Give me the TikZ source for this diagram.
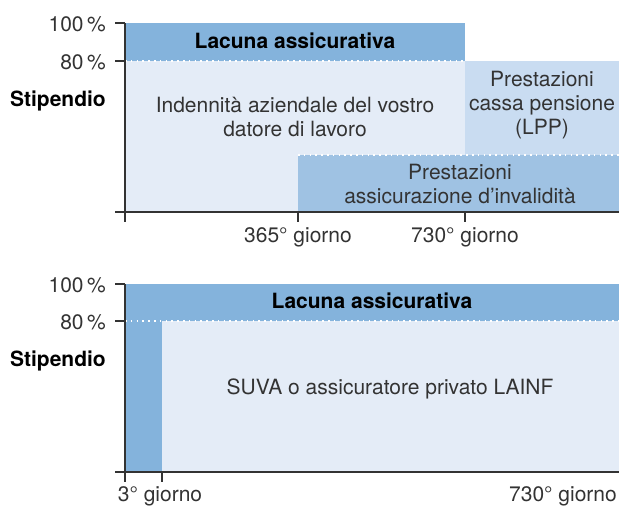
\documentclass[tikz,border=0pt]{standalone}
\usepackage{fontspec}
\setmainfont{TeX Gyre Heros}
\begin{document}
\begin{tikzpicture}[x=1pt,y=-1pt,
  txt/.style={text=textgray,font=\fontsize{21}{24}\selectfont,align=center,inner sep=0pt},
  lbl/.style={text=textgray,font=\fontsize{21}{24}\selectfont,inner sep=0pt},
  bold/.style={text=black,font=\fontsize{21}{24}\selectfont\bfseries,inner sep=0pt},
  axis/.style={draw=axisgray,line width=1.4pt},
  dots/.style={draw=white,line width=1.6pt,dash pattern=on 1.6pt off 4.2pt}]
\definecolor{textgray}{HTML}{333333}
\definecolor{axisgray}{HTML}{333333}
\definecolor{gapblue}{HTML}{84B3DC}
\definecolor{lightblue}{HTML}{E4ECF7}
\definecolor{lppblue}{HTML}{C9DCF1}
\definecolor{invblue}{HTML}{9FC2E3}
\useasboundingbox (0,0) rectangle (619,507);
% ---------- top chart
\fill[lightblue] (125,61) rectangle (465,212);
\fill[gapblue] (125,23) rectangle (465,61);
\fill[lppblue] (465,61) rectangle (619,155);
\fill[invblue] (298,155) rectangle (619,212);
\draw[dots] (125,61) -- (465,61);
\draw[dots] (298,155) -- (619,155);
\draw[axis] (125,23) -- (125,222);
\draw[axis] (115,212) -- (619,212);
\draw[axis] (115,23) -- (125,23);
\draw[axis] (115,61) -- (125,61);
\draw[axis] (298,212) -- (298,222);
\draw[axis] (465,212) -- (465,222);
\node[lbl,anchor=east] (t100) at (106,24) {100\,\%};
\node[lbl,anchor=east] (t80) at (106,62) {80\,\%};
\node[bold,anchor=east] (tstip) at (106,101) {Stipendio};
\node[bold] (tgap) at (295,41) {Lacuna assicurativa};
\node[txt] (tind) at (295,117) {Indennità aziendale del vostro\\datore di lavoro};
\node[txt] (tlpp) at (542,105) {Prestazioni\\cassa pensione\\(LPP)};
\node[txt] (tinv) at (460,183.5) {Prestazioni\\assicurazione d’invalidità};
\node[lbl] (t365) at (298,237) {365° giorno};
\node[lbl] (t730) at (465,237) {730° giorno};
% ---------- bottom chart
\fill[lightblue] (162,321) rectangle (619,472);
\fill[gapblue] (125,284) rectangle (619,321);
\fill[gapblue] (125,321) rectangle (162,472);
\draw[dots] (125,321) -- (619,321);
\draw[axis] (125,284) -- (125,482);
\draw[axis] (115,472) -- (619,472);
\draw[axis] (115,284) -- (125,284);
\draw[axis] (115,321) -- (125,321);
\draw[axis] (162,472) -- (162,482);
\node[lbl,anchor=east] (b100) at (106,285) {100\,\%};
\node[lbl,anchor=east] (b80) at (106,322) {80\,\%};
\node[bold,anchor=east] (bstip) at (106,361) {Stipendio};
\node[bold] (bgap) at (372,301) {Lacuna assicurativa};
\node[txt] (bsuva) at (390,389) {SUVA o assicuratore privato LAINF};
\node[lbl] (b3) at (160,496) {3° giorno};
\node[lbl,anchor=east] (b730) at (617,496) {730° giorno};
\end{tikzpicture}
\end{document}
